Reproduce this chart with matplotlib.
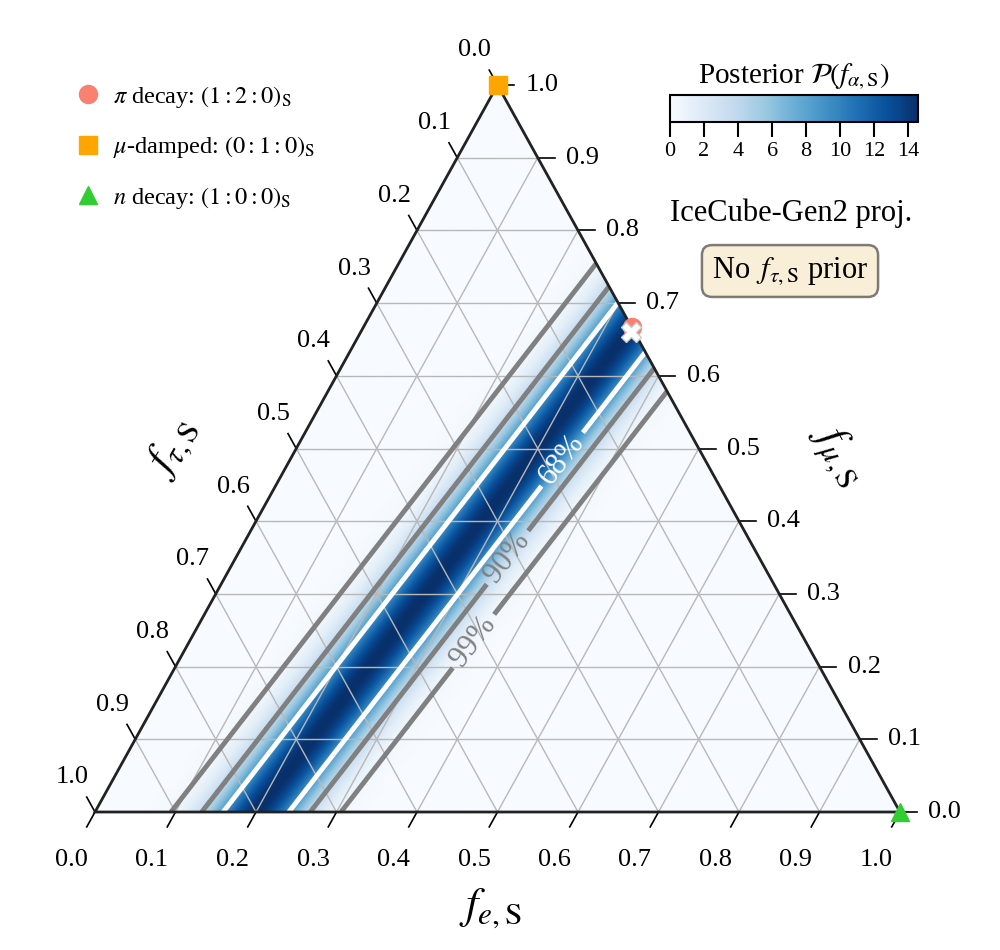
import numpy as np
import matplotlib.pyplot as plt
from matplotlib.lines import Line2D
from matplotlib.patches import Polygon

plt.rcParams['font.family'] = 'serif'
plt.rcParams['font.serif'] = ['Liberation Serif', 'DejaVu Serif']
plt.rcParams['mathtext.fontset'] = 'stix'

# posterior: gaussian band in u = f_e - 0.2*f_mu
band_center = 0.2
band_slope = 0.2
band_sigma = 0.041

cred_levels = [0.99, 0.90, 0.68]
cred_labels = ['99%', '90%', '68%']
cred_colors = ['gray', 'gray', 'white']
label_fmu = [0.235, 0.35, 0.485]   # where the contour labels sit

tick_vals = [0.0, 0.1, 0.2, 0.3, 0.4, 0.5, 0.6, 0.7, 0.8, 0.9, 1.0]

source_labels = [r'$\pi$ decay: $(1:2:0)_\mathrm{S}$',
                 r'$\mu$-damped: $(0:1:0)_\mathrm{S}$',
                 r'$n$ decay: $(1:0:0)_\mathrm{S}$']
source_fe = [1/3, 0.0, 1.0]
source_fmu = [2/3, 1.0, 0.0]
source_colors = ['salmon', 'orange', 'limegreen']
source_markers = ['o', 's', '^']

best_fe = 0.336
best_fmu = 0.660


def tern(fe, fmu):
    # (f_e, f_mu) -> cartesian, f_tau is the rest
    return np.asarray(fe) + np.asarray(fmu) / 2, np.asarray(fmu)


fig = plt.figure(figsize=(10, 9.5), dpi=100)
ax = fig.add_axes([0.095, 0.14526, 0.805, 0.76526])
ax.set_xlim(0, 1)
ax.set_ylim(0, 1)
ax.axis('off')

# density on a grid
n = 700
xs = np.linspace(0, 1, n)
ys = np.linspace(0, 1, n)
X, Y = np.meshgrid(xs, ys)
fmu = Y
fe = X - Y / 2
ftau = 1 - fe - fmu
inside = (fe >= 0) & (ftau >= 0)
u = fe - band_slope * fmu
dens = np.exp(-0.5 * ((u - band_center) / band_sigma) ** 2)
dA = (xs[1] - xs[0]) * (ys[1] - ys[0])
dens = dens / (dens[inside].sum() * dA)

# credible levels (highest density)
vals = np.sort(dens[inside])[::-1]
cum = np.cumsum(vals) / vals.sum()
levels = [vals[np.searchsorted(cum, c)] for c in cred_levels]

tri_x, tri_y = tern([0, 1, 0], [0, 0, 1])
tri = Polygon(np.column_stack([tri_x, tri_y]), closed=True, transform=ax.transData,
              fill=False, edgecolor='#222222', linewidth=2, zorder=6, clip_on=False)
ax.add_patch(tri)

im = ax.imshow(dens, origin='lower', extent=(0, 1, 0, 1), cmap='Blues', vmin=0,
               aspect='auto', interpolation='bilinear', zorder=1)
im.set_clip_path(tri)

# grid
for v in tick_vals[1:-1]:
    x0, y0 = tern([v, v], [0, 1 - v])
    ax.plot(x0, y0, color='0.72', lw=1, zorder=2)
    x0, y0 = tern([0, 1 - v], [v, v])
    ax.plot(x0, y0, color='0.72', lw=1, zorder=2)
    x0, y0 = tern([0, v], [v, 0])
    ax.plot(x0, y0, color='0.72', lw=1, zorder=2)

cs = ax.contour(X, Y, dens, levels=levels, colors=cred_colors, linewidths=3.5, zorder=4)
cs.set_clip_path(tri)

# labels on the right-hand contours
manual = []
for c, fm in zip(cred_levels, label_fmu):
    k = {0.99: 2.576, 0.90: 1.645, 0.68: 1.0}[c]
    fe_l = band_center + k * band_sigma + band_slope * fm
    manual.append(tern(fe_l, fm))
fmt = {lev: lab for lev, lab in zip(levels, cred_labels)}
ax.clabel(cs, levels=levels, fmt=fmt, manual=manual, inline=True, fontsize=22, inline_spacing=6)

# ticks
tl = 0.0205
tr = 0.0211
for v in tick_vals:
    # bottom: f_e
    bx, by = tern(v, 0)
    ax.plot([bx, bx - 0.5 * tl], [by, by - tl], color='k', lw=1.2, clip_on=False)
    ax.text(bx - 0.0292, by - 0.066, f'{v:.1f}', ha='center', va='center', fontsize=19)
    # right: f_mu
    rx, ry = tern(1 - v, v)
    ax.plot([rx, rx + tr], [ry, ry], color='k', lw=1.2, clip_on=False)
    ax.text(rx + 0.035, ry, f'{v:.1f}', ha='left', va='center', fontsize=19)
    # left: f_tau
    lx, ly = tern(0, 1 - v)
    ax.plot([lx, lx - 0.5 * tl], [ly, ly + tl], color='k', lw=1.2, clip_on=False)
    ax.text(lx - 0.0283, ly + 0.0475, f'{v:.1f}', ha='center', va='center', fontsize=19)

# sources and best fit
for fe_s, fm_s, col, mk in zip(source_fe, source_fmu, source_colors, source_markers):
    sx, sy = tern(fe_s, fm_s)
    ax.plot(sx, sy, marker=mk, color=col, ms=13, ls='none', clip_on=False, zorder=8)
bx, by = tern(best_fe, best_fmu)
ax.plot(bx, by, marker='X', color='white', mec='0.8', mew=1, ms=15, ls='none', zorder=9)

fig.text(0.49, 1 - 908 / 950, r'$f_{e,\mathrm{S}}$', fontsize=32, ha='center', va='center')
fig.text(0.172, 1 - 448 / 950, r'$f_{\tau,\mathrm{S}}$', fontsize=32, ha='center', va='center', rotation=60)
fig.text(0.838, 1 - 455 / 950, r'$f_{\mu,\mathrm{S}}$', fontsize=32, ha='center', va='center', rotation=-60)

# legend
handles = [Line2D([], [], marker=mk, color=col, ls='none', ms=13)
           for col, mk in zip(source_colors, source_markers)]
fig.legend(handles, source_labels, loc='upper left', bbox_to_anchor=(0.078, 0.9116),
           frameon=False, fontsize=17.5, handlelength=0.8, handletextpad=0.65,
           labelspacing=1.0, borderpad=0, borderaxespad=0)

# colorbar
cax = fig.add_axes([0.67, 0.8716, 0.248, 0.0284])
cb = fig.colorbar(im, cax=cax, orientation='horizontal', ticks=range(0, 15, 2))
cb.outline.set_linewidth(1.5)
cax.tick_params(length=11, width=1.5, labelsize=16)
cax.set_title(r'Posterior $\mathcal{P}(f_{\alpha,\mathrm{S}})$', fontsize=21, pad=8)

fig.text(0.791, 1 - 213 / 950, 'IceCube-Gen2 proj.', fontsize=22, ha='center', va='center')
fig.text(0.790, 1 - 271 / 950, r'No $\,f_{\tau,\mathrm{S}}$ prior', fontsize=22, ha='center', va='center',
         bbox=dict(boxstyle='round,pad=0.33', facecolor='wheat', alpha=0.5, lw=1.8))

fig.savefig('out.png', dpi=100)
